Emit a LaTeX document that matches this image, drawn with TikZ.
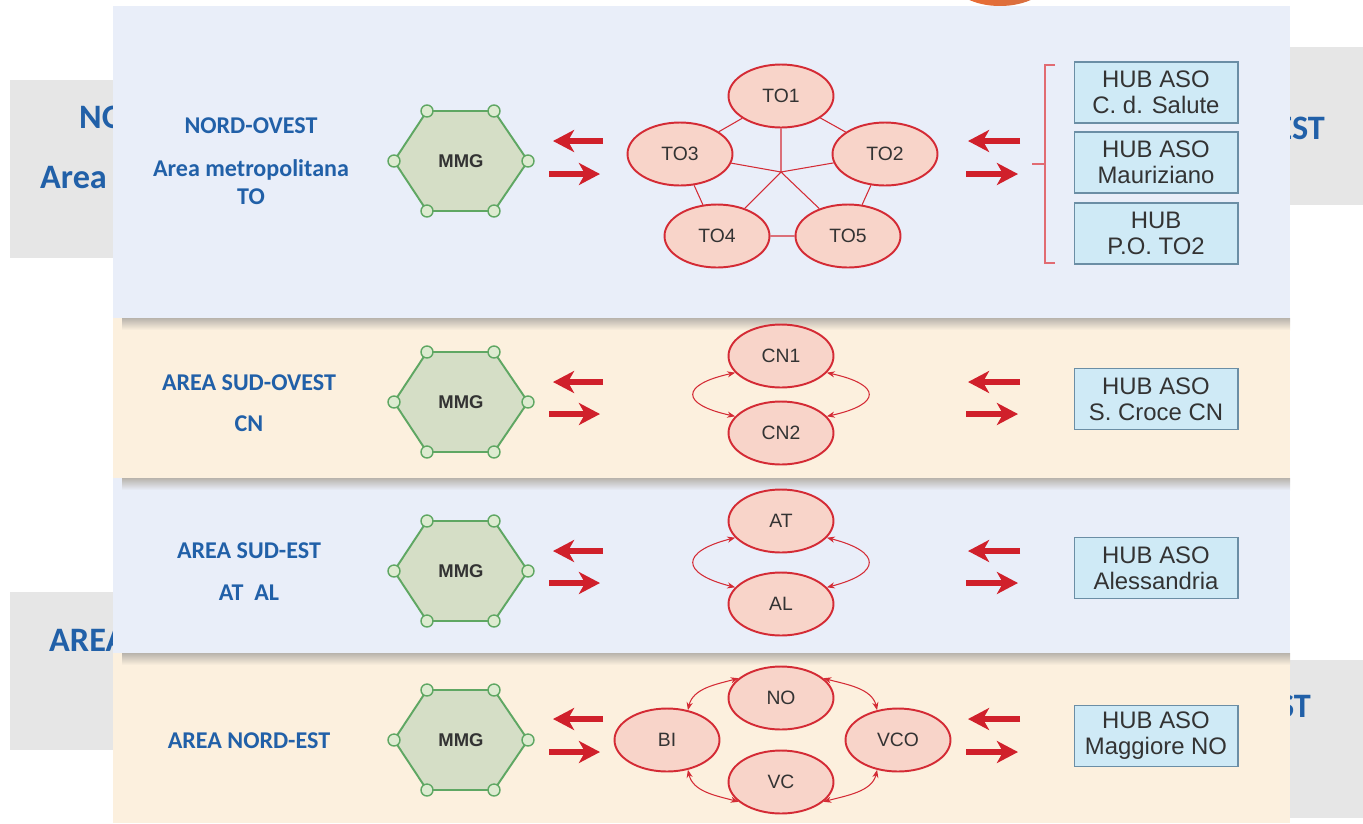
\documentclass[tikz,border=0pt]{standalone}
\usepackage{fontspec}
\setmainfont{Liberation Sans}
\newfontfamily\carlito{Carlito}
\usepackage{xcolor}
\usetikzlibrary{arrows.meta, shapes.geometric}

\definecolor{panelblue}{HTML}{E9EEF9}
\definecolor{panelbeige}{HTML}{FCF0DE}
\definecolor{greybox}{HTML}{E6E6E6}
\definecolor{areablue}{HTML}{2160A8}
\definecolor{hexfill}{HTML}{D5DEC6}
\definecolor{hexline}{HTML}{5FA763}
\definecolor{dotfill}{HTML}{DDEBD0}
\definecolor{ellfill}{HTML}{F8D4C9}
\definecolor{ellred}{HTML}{D42B35}
\definecolor{arrowred}{HTML}{D0202B}
\definecolor{hubfill}{HTML}{CFEAF6}
\definecolor{hubline}{HTML}{6B8EA5}
\definecolor{txtgrey}{HTML}{333333}
\definecolor{shadowgrey}{HTML}{B8B3AC}
\definecolor{bloborange}{HTML}{EE6B30}

\begin{document}
\begin{tikzpicture}[x=0.02cm, y=-0.02cm,
  every node/.style={font=\fontsize{11}{13}\selectfont, text=txtgrey},
  areatitle/.style={font=\carlito\bfseries\fontsize{13.7}{16}\selectfont, text=areablue, align=center},
  backtitle/.style={font=\carlito\bfseries\fontsize{19.5}{34}\selectfont, text=areablue, align=left},
  site/.style={ellipse, draw=ellred, fill=ellfill, line width=1.1pt,
    minimum width=2.1cm, minimum height=1.26cm, inner sep=0pt},
  hubbox/.style={rectangle, draw=hubline, fill=hubfill, line width=0.6pt,
    minimum width=3.28cm, minimum height=1.22cm, inner sep=0pt, align=center,
    font=\fontsize{13.6}{14.7}\selectfont},
  mmgtext/.style={font=\bfseries\fontsize{10.5}{12}\selectfont},
  bigarrow/.style={draw=arrowred, line width=3.8pt, -{Stealth[length=12pt, width=12.5pt, inset=3.5pt]}},
  tolink/.style={draw=ellred, line width=0.6pt},
  biarc/.style={draw=ellred, line width=0.6pt,
    {Stealth[length=4.5pt, width=3.5pt]}-{Stealth[length=4.5pt, width=3.5pt]}},
  bracket/.style={draw=ellred!70, line width=0.6pt},
  mmghex/.pic={
    \draw[draw=hexline, fill=hexfill, line width=1.1pt]
      (-67,0) -- (-34,-50) -- (33,-50) -- (67,0) -- (33,50) -- (-34,50) -- cycle;
    \foreach \p in {(-67,0),(-34,-50),(33,-50),(67,0),(33,50),(-34,50)}
      \draw[draw=hexline, fill=dotfill, line width=0.8pt] \p circle (6);
  }]
\useasboundingbox (0,0) rectangle (1363,823);

% slides behind
\fill[greybox] (10,80) rectangle (140,258);
\fill[greybox] (1260,47) rectangle (1363,205);
\fill[greybox] (10,592) rectangle (140,750);
\fill[greybox] (1260,660) rectangle (1363,818);
\node[backtitle, anchor=west] (backno) at (73,117) {NO};
\node[backtitle, anchor=west] (backarea) at (34,178) {Area m};
\node[backtitle, anchor=east] (backest) at (1331,128) {-EST};
\node[backtitle, anchor=west] (backsud) at (43,640) {AREA};
\node[backtitle, anchor=east] (backne) at (1317,706) {EST};
\shade[left color=bloborange, right color=bloborange!75!gray] (1000,-19) ellipse (47 and 25);

% panels
\fill[panelblue] (113,6) rectangle (1290,318);
\fill[panelbeige] (113,318) rectangle (1290,478);
\fill[panelblue] (113,478) rectangle (1290,653);
\fill[panelbeige] (113,653) rectangle (1290,823);
\shade[top color=shadowgrey, bottom color=panelbeige] (122,318) rectangle (1290,330);
\shade[top color=shadowgrey, bottom color=panelblue] (122,478) rectangle (1290,490);
\shade[top color=shadowgrey, bottom color=panelbeige] (122,653) rectangle (1290,665);

% NORD-OVEST
\node[areatitle] (nordovest) at (251,126) {NORD-OVEST};
\node[areatitle, font=\carlito\bfseries\fontsize{13.7}{15.9}\selectfont] (metro) at (251,182) {Area metropolitana\\TO};
\pic at (461,161) {mmghex};
\node[mmgtext] (mmg1) at (461,161) {MMG};
\draw[bigarrow] (603,141) -- (553,141);
\draw[bigarrow] (549,174) -- (600,174);
\node[site] (to1) at (781,96) {TO1};
\node[site] (to3) at (680,154) {TO3};
\node[site] (to2) at (885,154) {TO2};
\node[site] (to4) at (717,236) {TO4};
\node[site] (to5) at (848,236) {TO5};
\coordinate (tohub) at (781,172);
\draw[tolink] (to1) -- (to3) (to1) -- (to2) (to3) -- (to4) (to2) -- (to5) (to4) -- (to5);
\draw[tolink] (to1) -- (tohub) (to2) -- (tohub) (to3) -- (tohub) (to4) -- (tohub) (to5) -- (tohub);
\draw[bigarrow] (1020,141) -- (968,141);
\draw[bigarrow] (966,174) -- (1018,174);
\node[hubbox] (hubsalute) at (1156,92.5) {HUB ASO\\C. d. Salute};
\node[hubbox] (hubmauri) at (1156,162.5) {HUB ASO\\Mauriziano};
\node[hubbox] (hubpo) at (1156,233.5) {HUB\\P.O. TO2};
\draw[bracket] (1055,65) -- (1045,65) -- (1045,263) -- (1055,263);
\draw[bracket] (1045,164) -- (1032,164);

% AREA SUD-OVEST
\node[areatitle] (sudovest) at (249,383) {AREA SUD-OVEST};
\node[areatitle] (cn) at (249,424) {CN};
\pic at (461,402) {mmghex};
\node[mmgtext] (mmg2) at (461,402) {MMG};
\draw[bigarrow] (603,382) -- (553,382);
\draw[bigarrow] (549,414) -- (600,414);
\node[site] (cn1) at (781,356) {CN1};
\node[site] (cn2) at (781,433) {CN2};
\draw[biarc] (cn1.200) .. controls +(-55,12) and +(-55,-12) .. (cn2.160);
\draw[biarc] (cn1.-20) .. controls +(55,12) and +(55,-12) .. (cn2.20);
\draw[bigarrow] (1020,382) -- (968,382);
\draw[bigarrow] (966,414) -- (1018,414);
\node[hubbox] (hubcroce) at (1156,399) {HUB ASO\\S. Croce CN};

% AREA SUD-EST
\node[areatitle] (sudest) at (249,551) {AREA SUD-EST};
\node[areatitle] (atal) at (249,593) {AT\ \ AL};
\pic at (461,571) {mmghex};
\node[mmgtext] (mmg3) at (461,571) {MMG};
\draw[bigarrow] (603,551) -- (553,551);
\draw[bigarrow] (549,583) -- (600,583);
\node[site] (at) at (781,521) {AT};
\node[site] (al) at (781,604) {AL};
\draw[biarc] (at.200) .. controls +(-55,14) and +(-55,-14) .. (al.160);
\draw[biarc] (at.-20) .. controls +(55,14) and +(55,-14) .. (al.20);
\draw[bigarrow] (1020,551) -- (968,551);
\draw[bigarrow] (966,583) -- (1018,583);
\node[hubbox] (hubales) at (1156,568) {HUB ASO\\Alessandria};

% AREA NORD-EST
\node[areatitle] (nordest) at (249,741) {AREA NORD-EST};
\pic at (461,740) {mmghex};
\node[mmgtext] (mmg4) at (461,740) {MMG};
\draw[bigarrow] (603,719) -- (553,719);
\draw[bigarrow] (549,752) -- (600,752);
\node[site] (no) at (781,698) {NO};
\node[site] (vc) at (781,782) {VC};
\node[site] (bi) at (667,740) {BI};
\node[site] (vco) at (898,740) {VCO};
\draw[biarc] (bi.55) .. controls +(5,-22) and +(-22,6) .. (no.155);
\draw[biarc] (no.25) .. controls +(22,6) and +(-5,-22) .. (vco.125);
\draw[biarc] (bi.-55) .. controls +(5,22) and +(-22,-6) .. (vc.205);
\draw[biarc] (vc.-25) .. controls +(22,-6) and +(-5,22) .. (vco.235);
\draw[bigarrow] (1020,719) -- (968,719);
\draw[bigarrow] (966,752) -- (1018,752);
\node[hubbox] (hubmagg) at (1156,736) {HUB ASO\\Maggiore NO};
\end{tikzpicture}
\end{document}
